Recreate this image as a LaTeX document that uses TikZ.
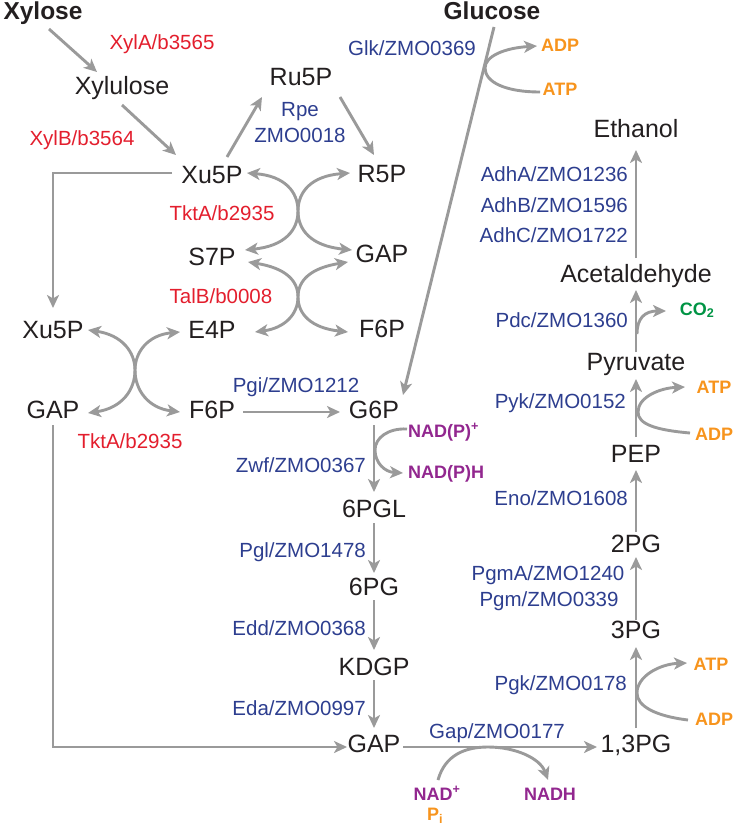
\documentclass[tikz,border=0pt]{standalone}
\usepackage{fontspec}
\setmainfont{Liberation Sans}
\usetikzlibrary{arrows.meta, calc, positioning}
\definecolor{inkblack}{HTML}{231F20}
\definecolor{enzblue}{HTML}{2D3E8F}
\definecolor{enzred}{HTML}{E31E2D}
\definecolor{coforange}{HTML}{F7941D}
\definecolor{cofpurple}{HTML}{92278F}
\definecolor{cofgreen}{HTML}{009444}
\definecolor{arrgray}{HTML}{9A9A9A}

\begin{document}
\begin{tikzpicture}[x=1pt, y=-1pt,
    metab/.style={anchor=base, inner sep=1pt, text=inkblack, font=\fontsize{25}{30}\selectfont},
    subst/.style={metab, font=\bfseries\fontsize{24.5}{30}\selectfont},
    enzb/.style={anchor=base, inner sep=0pt, text=enzblue, font=\fontsize{20.5}{24}\selectfont},
    enzr/.style={enzb, text=enzred},
    cofac/.style={anchor=base, inner sep=0pt, font=\bfseries\fontsize{18}{20}\selectfont},
    flow/.style={draw=arrgray, line width=2.9pt, -{Stealth[length=13pt, width=12pt, inset=3.5pt]}},
    rev/.style={flow, {Stealth[length=13pt, width=12pt, inset=3.5pt]}-{Stealth[length=13pt, width=12pt, inset=3.5pt]}}
]
\useasboundingbox (0,0) rectangle (739,834);

% Substrates
\node[subst] (xylose) at (43,20) {Xylose};
\node[subst] (glucose) at (492,20) {Glucose};

% Xylose uptake branch
\node[metab] (xylulose) at (122,95) {Xylulose};
\node[enzr] (xyla) at (162,50) {XylA/b3565};
\node[enzr] (xylb) at (82,146) {XylB/b3564};

% Pentose phosphate pathway (non-oxidative)
\node[metab] (ru5p) at (301,86) {Ru5P};
\node[enzb] (rpe) at (300,117) {Rpe};
\node[enzb] (rpeid) at (300,143) {ZMO0018};
\node[metab] (xu5pa) at (212,184) {Xu5P};
\node[metab] (r5p) at (382,183) {R5P};
\node[enzr] (tkta) at (222,220) {TktA/b2935};
\node[metab] (s7p) at (212,265) {S7P};
\node[metab] (gapa) at (382,262) {GAP};
\node[enzr] (talb) at (221,303) {TalB/b0008};
\node[metab] (xu5pb) at (53,338) {Xu5P};
\node[metab] (e4p) at (212,338) {E4P};
\node[metab] (f6pa) at (382,337) {F6P};
\node[metab] (gapb) at (53,418) {GAP};
\node[metab] (f6pb) at (212,418) {F6P};
\node[enzr] (tktb) at (130,448) {TktA/b2935};

% Entner-Doudoroff pathway
\node[enzb] (glk) at (412,56) {Glk/ZMO0369};
\node[cofac, text=coforange] (adpa) at (560,52) {ADP};
\node[cofac, text=coforange] (atpa) at (560,96) {ATP};
\node[metab] (g6p) at (374,418) {G6P};
\node[enzb] (pgi) at (296,392) {Pgi/ZMO1212};
\node[cofac, text=cofpurple, anchor=base west] (nadp) at (408,437) {NAD(P)\textsuperscript{+}};
\node[cofac, text=cofpurple, anchor=base west] (nadph) at (408,478) {NAD(P)H};
\node[enzb, anchor=base east] (zwf) at (366,472) {Zwf/ZMO0367};
\node[metab] (pgl) at (374,517) {6PGL};
\node[enzb, anchor=base east] (pglase) at (366,557) {Pgl/ZMO1478};
\node[metab] (pg6) at (374,595) {6PG};
\node[enzb, anchor=base east] (edd) at (366,635) {Edd/ZMO0368};
\node[metab] (kdgp) at (374,675) {KDGP};
\node[enzb, anchor=base east] (eda) at (366,715) {Eda/ZMO0997};
\node[metab] (gapc) at (374,752) {GAP};

% Lower glycolysis and ethanol
\node[enzb] (gapdh) at (497,738) {Gap/ZMO0177};
\node[cofac, text=cofpurple] (nad) at (437,800) {NAD\textsuperscript{+}};
\node[cofac, text=coforange] (pi) at (435,820) {P\textsubscript{i}};
\node[cofac, text=cofpurple] (nadh) at (550,800) {NADH};
\node[metab] (bpg) at (636,752) {1,3PG};
\node[enzb, anchor=base east] (pgk) at (627,690) {Pgk/ZMO0178};
\node[cofac, text=coforange] (atpc) at (711,670) {ATP};
\node[cofac, text=coforange] (adpc) at (714,725) {ADP};
\node[metab] (pg3) at (636,638) {3PG};
\node[enzb] (pgma) at (548,580) {PgmA/ZMO1240};
\node[enzb] (pgm) at (549,606) {Pgm/ZMO0339};
\node[metab] (pg2) at (636,552) {2PG};
\node[enzb, anchor=base east] (eno) at (628,505) {Eno/ZMO1608};
\node[metab] (pep) at (636,462) {PEP};
\node[enzb, anchor=base east] (pyk) at (626,408) {Pyk/ZMO0152};
\node[cofac, text=coforange] (atpb) at (714,393) {ATP};
\node[cofac, text=coforange] (adpb) at (714,440) {ADP};
\node[metab] (pyr) at (636,370) {Pyruvate};
\node[enzb, anchor=base east] (pdc) at (628,327) {Pdc/ZMO1360};
\node[cofac, text=cofgreen] (co2) at (697,315) {CO\textsubscript{2}};
\node[metab] (acald) at (636,282) {Acetaldehyde};
\node[enzb, anchor=base east] (adha) at (628,182) {AdhA/ZMO1236};
\node[enzb, anchor=base east] (adhb) at (628,212) {AdhB/ZMO1596};
\node[enzb, anchor=base east] (adhc) at (628,242) {AdhC/ZMO1722};
\node[metab] (etoh) at (636,138) {Ethanol};

% Xylose to Xu5P
\draw[flow] ($(xylose.base)+(6,9)$) -- ($(xylulose.base)+(-25,-23)$);
\draw[flow] ($(xylulose.base)+(0,10)$) -- ($(xu5pa.base)+(-36,-29)$);
\draw[flow] ($(xu5pa.base)+(15,-27)$) -- ($(ru5p.base)+(-39,11)$);
\draw[flow] ($(ru5p.base)+(39,11)$) -- ($(r5p.base)+(-8,-28)$);

% Transketolase / transaldolase crossings
\draw[rev] ($(xu5pa.base)+(35,-11)$) .. controls (285,176) and (298,192) .. (298,211)
    .. controls (298,230) and (285,246) .. ($(s7p.base)+(33,-15)$);
\draw[rev] ($(r5p.base)+(-32,-10)$) .. controls (311,176) and (298,192) .. (298,211)
    .. controls (298,230) and (311,246) .. ($(gapa.base)+(-30,-12)$);
\draw[rev] ($(s7p.base)+(36,-3)$) .. controls (285,268) and (298,280) .. (298,297)
    .. controls (298,314) and (285,328) .. ($(e4p.base)+(43,-6)$);
\draw[rev] ($(gapa.base)+(-34,0)$) .. controls (311,268) and (298,280) .. (298,297)
    .. controls (298,314) and (311,328) .. ($(f6pa.base)+(-34,-5)$);
\draw[rev] ($(xu5pb.base)+(35,-8)$) .. controls (122,335) and (135,352) .. (135,370)
    .. controls (135,390) and (122,408) .. ($(gapb.base)+(35,-5)$);
\draw[rev] ($(e4p.base)+(-32,-6)$) .. controls (148,335) and (135,352) .. (135,370)
    .. controls (135,390) and (148,408) .. ($(f6pb.base)+(-32,-6)$);

% Side branches to the left column
\draw[flow] ($(xu5pa.base)+(-40,-11)$) -| ($(xu5pb.base)+(0,-30)$);
\draw[flow] ($(gapb.base)+(0,7)$) |- ($(gapc.base)+(-27,-5)$);
\draw[flow] ($(f6pb.base)+(31,-6)$) -- ($(g6p.base)+(-34,-6)$);

% Glucose to G6P with Glk
\draw[flow] ($(glucose.base)+(2,7)$) -- ($(g6p.base)+(29,-23)$);
\draw[flow] ($(atpa.base)+(-20,-4)$) .. controls (505,92) and (485,82) .. (485,68)
    .. controls (485,56) and (505,48) .. ($(adpa.base)+(-23,-6)$);

% ED pathway steps
\draw[flow] ($(g6p.base)+(0,7)$) -- ($(pgl.base)+(0,-25)$);
\draw[flow] ($(nadp.base west)+(-1,-8)$) .. controls (388,428) and (375,438) .. (375,450)
    .. controls (375,463) and (385,472) .. ($(nadph.base west)+(-5,-5)$);
\draw[flow] ($(pgl.base)+(0,6)$) -- ($(pg6.base)+(0,-22)$);
\draw[flow] ($(pg6.base)+(0,5)$) -- ($(kdgp.base)+(0,-25)$);
\draw[flow] ($(kdgp.base)+(0,5)$) -- ($(gapc.base)+(0,-24)$);

% GAP to 1,3PG with NAD+
\draw[flow] ($(gapc.base)+(29,-5)$) -- ($(bpg.base)+(-39,-5)$);
\draw[flow] ($(nad.base)+(1,-20)$) .. controls (445,755) and (465,747) .. (488,747)
    .. controls (515,747) and (540,758) .. ($(nadh.base)+(-2,-20)$);

% Lower glycolysis
\draw[flow] ($(bpg.base)+(0,-24)$) -- ($(pg3.base)+(0,9)$);
\draw[flow] ($(adpc.base)+(-26,-5)$) .. controls (655,716) and (637,706) .. (637,693)
    .. controls (637,676) and (660,664) .. ($(atpc.base)+(-24,-7)$);
\draw[flow] ($(pg3.base)+(0,-18)$) -- ($(pg2.base)+(0,5)$);
\draw[flow] ($(pg2.base)+(0,-20)$) -- ($(pep.base)+(0,8)$);
\draw[flow] ($(pep.base)+(0,-25)$) -- ($(pyr.base)+(0,9)$);
\draw[flow] ($(adpb.base)+(-24,-7)$) .. controls (655,430) and (638,424) .. (638,412)
    .. controls (638,397) and (660,388) .. ($(atpb.base)+(-29,-6)$);

% Pyruvate to ethanol
\draw[flow] ($(pyr.base)+(0,-18)$) -- ($(acald.base)+(0,8)$);
\draw[flow] ($(pyr.base)+(1,-36)$) .. controls (637,318) and (645,311) .. ($(co2.base)+(-31,-4)$);
\draw[flow] ($(acald.base)+(0,-24)$) -- ($(etoh.base)+(0,12)$);

\end{tikzpicture}
\end{document}
